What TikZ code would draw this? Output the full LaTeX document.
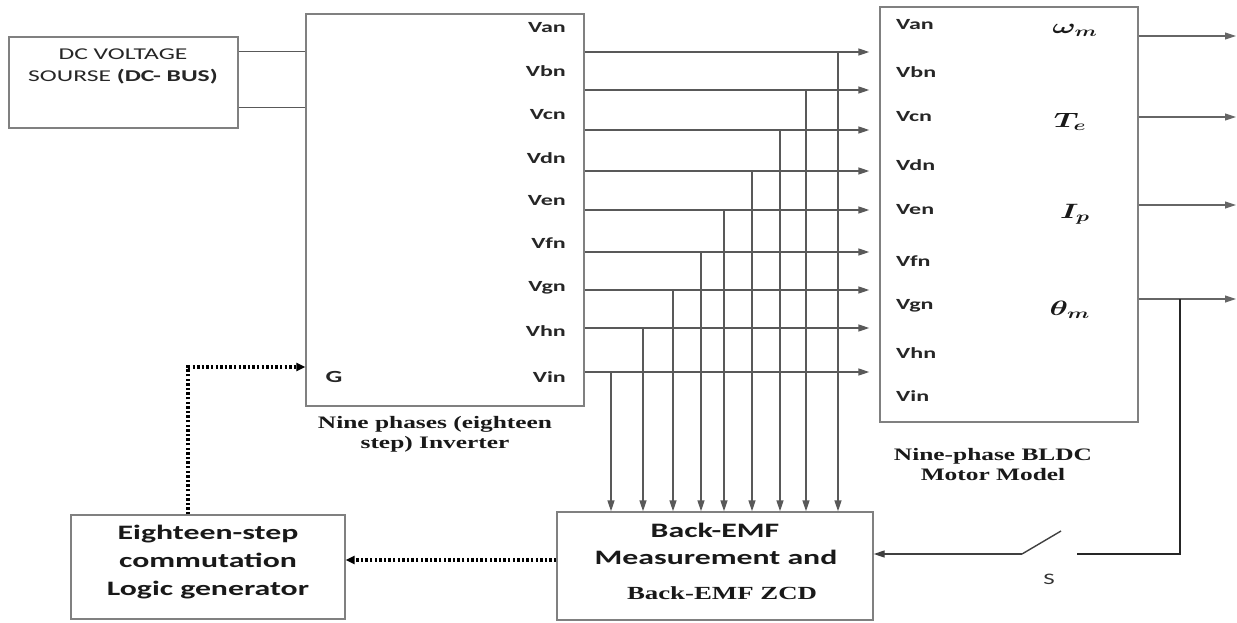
\documentclass[tikz,border=0pt]{standalone}
\usepackage{fontspec}
\usepackage{amsmath}
\usepackage{graphicx}
\usetikzlibrary{arrows.meta,calc}
\setmainfont{Carlito}[FakeStretch=1.55]
\newfontfamily\serifb{Liberation Serif}[FakeStretch=1.45]
\begin{document}
\begin{tikzpicture}[x=1pt,y=-1pt,
 box/.style={draw=black!50,line width=1.4pt,inner sep=0pt},
 wire/.style={draw=black!65,line width=1.4pt},
 arr/.style={wire,-{Triangle[length=11pt,width=7pt]}},
 dots/.style={draw=black,line width=3.2pt,dash pattern=on 2.4pt off 2.2pt},
 darr/.style={dots,-{Triangle[length=9pt,width=8pt]}},
 lab/.style={font=\fontsize{15.5}{17}\selectfont\bfseries,text=black!85,inner sep=0pt},
 boxtext/.style={font=\fontsize{20.5}{28}\selectfont\bfseries,text=black!90,align=center,inner sep=0pt},
 captext/.style={font=\serifb\fontsize{17.5}{20}\selectfont\bfseries,text=black!90,align=center,inner sep=0pt},
 mathlab/.style={font=\fontsize{21}{22}\selectfont,text=black!90,inner sep=0pt}]
\useasboundingbox (0,0) rectangle (1237,622);
\fill[white] (0,0) rectangle (1237,622);

% blocks
\node[box,minimum width=229pt,minimum height=91pt] (dc) at (123.5,82.5) {};
\node[font=\fontsize{16.5}{22}\selectfont,text=black!85,align=center,inner sep=0pt] (dctext) at (123,66) {DC VOLTAGE\\SOURSE \textbf{(DC- BUS)}};
\node[box,minimum width=278pt,minimum height=392pt] (inv) at (445,210) {};
\node[box,minimum width=258pt,minimum height=415pt] (mot) at (1009,214.5) {};
\node[box,minimum width=274pt,minimum height=104pt] (logic) at (208,567) {};
\node[boxtext] (logictext) at (208,562) {Eighteen-step\\commutation\\Logic generator};
\node[box,minimum width=316pt,minimum height=108pt] (bemf) at (715,566) {};
\node[boxtext] (bemf1) at (715,530) {Back-EMF};
\node[boxtext] (bemf2) at (716,557) {Measurement and};
\node[captext,font=\serifb\fontsize{18.5}{20}\selectfont\bfseries] (bemf3) at (722,593) {Back-EMF ZCD};

% captions
\node[captext] (invcap) at (435,434) {Nine phases (eighteen\\step) Inverter};
\node[captext] (motcap) at (993,465) {Nine-phase BLDC\\Motor Model};

% DC bus connections
\draw[wire] ([yshift=-15pt]dc.north east) -- ([yshift=-15pt]dc.north east -| inv.west);
\draw[wire] ([yshift=21pt]dc.south east) -- ([yshift=21pt]dc.south east -| inv.west);

% inverter labels
\foreach \n/\y in {Van/28,Vbn/71,Vcn/115,Vdn/158,Ven/201,Vfn/243,Vgn/288,Vhn/331,Vin/377}
  \node[lab,anchor=east] (il\n) at (566,\y) {\n};
\node[lab,font=\fontsize{17}{18}\selectfont\bfseries] (g) at (334,377) {G};

% motor labels
\foreach \n/\y in {Van/25,Vbn/72,Vcn/117,Vdn/165,Ven/210,Vfn/261,Vgn/306,Vhn/353,Vin/396}
  \node[lab,anchor=west] (ml\n) at (896,\y) {\n};

% inverter outputs and taps
\foreach \y/\t [count=\i] in {52/838,90/806,130/780,171/752,210/724,252/701,290/673,328/643,372/611}{
  \coordinate (o\i) at (inv.east |- 0,\y);
  \draw[arr,shorten >=10pt] (o\i) -- (o\i -| mot.west);
  \coordinate (t\i) at (\t,\y);
  \draw[arr] (t\i) -- (t\i |- bemf.north);
}

% motor outputs
\node[mathlab] (wm) at (1075,30) {\scalebox{1.5}[1]{$\boldsymbol{\omega_m}$}};
\node[mathlab] (te) at (1070,122) {\scalebox{1.5}[1]{$\boldsymbol{T_e}$}};
\node[mathlab] (ip) at (1075,214) {\scalebox{1.5}[1]{$\boldsymbol{I_p}$}};
\node[mathlab] (thm) at (1070,310) {\scalebox{1.5}[1]{$\boldsymbol{\theta_m}$}};
\foreach \y [count=\i] in {36,117,205,299}{
  \coordinate (mo\i) at (1236,\y);
  \draw[arr,draw=black!60,line width=1.1pt] (mot.east |- mo\i) -- (mo\i);
}

% feedback through switch S
\coordinate (br) at (1180,299);
\coordinate (sw1) at (1077,554);
\coordinate (sw0) at (1022,554);
\coordinate (swt) at (1061,531);
\draw[wire,draw=black!85] (br) -- (br |- sw1) -- (sw1);
\draw[wire,draw=black!75] (sw0) -- (swt);
\draw[arr,draw=black!75] (sw0) -- (sw0 -| bemf.east);
\node[font=\fontsize{16}{18}\selectfont,text=black!80,inner sep=0pt] (s) at (1049,579) {S};

% dotted control paths
\draw[darr] (logic.north -| 188,0) |- (inv.west |- 0,367);
\draw[darr] (bemf.west |- 0,560) -- (logic.east |- 0,560);
\end{tikzpicture}
\end{document}
